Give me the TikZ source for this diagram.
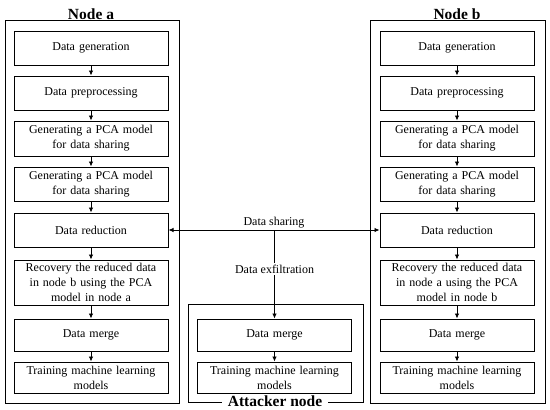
\documentclass[tikz,border=0pt]{standalone}
\usepackage{fontspec}
\setmainfont{Liberation Serif}
\usetikzlibrary{arrows.meta}
\begin{document}
\begin{tikzpicture}[x=1pt,y=-1pt,
  stepbox/.style={draw, line width=1pt, minimum width=154pt, text width=150pt, align=center, inner sep=1pt, font=\fontsize{12}{15}\selectfont},
  frame/.style={draw, line width=1pt},
  title/.style={fill=white, font=\bfseries\fontsize{15.5}{17}\selectfont, inner xsep=6pt, inner ysep=1pt},
  flow/.style={-{Latex[length=5pt,width=4.5pt]}, line width=0.8pt},
  both/.style={{Latex[length=5pt,width=4.5pt]}-{Latex[length=5pt,width=4.5pt]}, line width=0.8pt},
  lbl/.style={font=\fontsize{12}{15}\selectfont}]
\useasboundingbox (0,0) rectangle (550,410);
% frames
\draw[frame] (5,20) rectangle (179,403);
\draw[frame] (370,20) rectangle (545,403);
\draw[frame] (188,304) rectangle (363,402);
\node[title] (ta) at (91,14) {Node a};
\node[title] (tb) at (457,14) {Node b};
\node[title] (tc) at (275,401) {Attacker node};
% node a
\node[stepbox, minimum height=34pt] (a1) at (91,48) {Data generation};
\node[stepbox, minimum height=34pt] (a2) at (91,93) {Data preprocessing};
\node[stepbox, minimum height=35pt] (a3) at (91,138.5) {Generating a PCA model\\for data sharing};
\node[stepbox, minimum height=34pt] (a4) at (91,184) {Generating a PCA model\\for data sharing};
\node[stepbox, minimum height=34pt] (a5) at (91,230) {Data reduction};
\node[stepbox, minimum height=45pt] (a6) at (91,282.5) {Recovery the reduced data\\in node b using the PCA\\model in node a};
\node[stepbox, minimum height=32pt] (a7) at (91,335) {Data merge};
\node[stepbox, minimum height=31pt] (a8) at (91,377.5) {Training machine learning\\models};
% node b
\node[stepbox, minimum height=34pt] (b1) at (457,48) {Data generation};
\node[stepbox, minimum height=34pt] (b2) at (457,93) {Data preprocessing};
\node[stepbox, minimum height=35pt] (b3) at (457,138.5) {Generating a PCA model\\for data sharing};
\node[stepbox, minimum height=34pt] (b4) at (457,184) {Generating a PCA model\\for data sharing};
\node[stepbox, minimum height=34pt] (b5) at (457,230) {Data reduction};
\node[stepbox, minimum height=45pt] (b6) at (457,282.5) {Recovery the reduced data\\in node a using the PCA\\model in node b};
\node[stepbox, minimum height=32pt] (b7) at (457,335) {Data merge};
\node[stepbox, minimum height=31pt] (b8) at (457,377.5) {Training machine learning\\models};
% attacker
\node[stepbox, minimum height=32pt] (c1) at (274.5,335) {Data merge};
\node[stepbox, minimum height=31pt] (c2) at (274.5,377.5) {Training machine learning\\models};
% flows
\foreach \p/\q in {1/2,2/3,3/4,4/5,5/6,6/7,7/8}{
  \draw[flow] (a\p.south) -- (a\q.north);
  \draw[flow] (b\p.south) -- (b\q.north);
}
\draw[flow] (c1.south) -- (c2.north);
\draw[both] (a5.east) -- (b5.west) node[midway, above, lbl, inner sep=2pt] (ds) {Data sharing};
\coordinate (split) at (274.5,230);
\draw[flow] (split) -- (c1.north) node[pos=0.44, fill=white, lbl, inner sep=2pt] (ex) {Data exfiltration};
\end{tikzpicture}
\end{document}
